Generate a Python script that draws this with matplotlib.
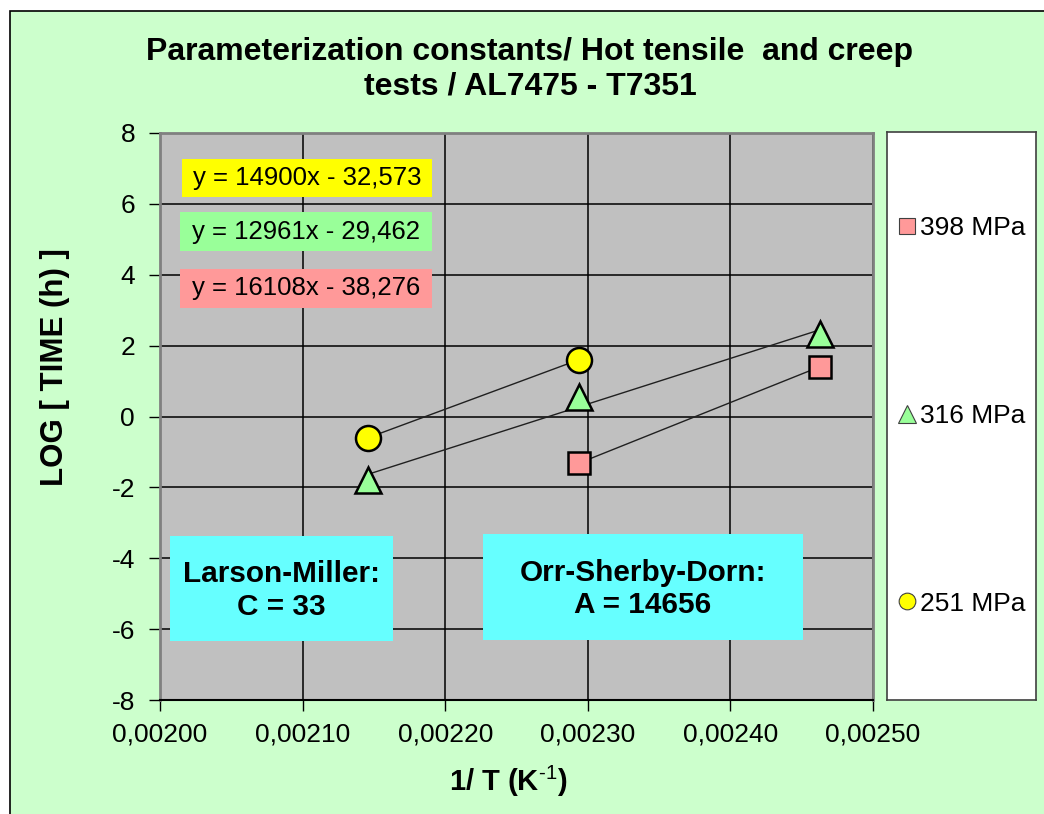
import numpy as np
import matplotlib
matplotlib.use("Agg")
import matplotlib.pyplot as plt
from matplotlib.patches import Rectangle
from matplotlib.lines import Line2D
from matplotlib.ticker import FuncFormatter, MultipleLocator

plt.rcParams['font.family'] = ['Liberation Sans', 'DejaVu Sans']
plt.rcParams['axes.unicode_minus'] = False
plt.rcParams['mathtext.fontset'] = 'custom'
plt.rcParams['mathtext.rm'] = 'Liberation Sans'
plt.rcParams['mathtext.bf'] = 'Liberation Sans:bold'

# data: test temperatures (K) and log rupture time for each stress level
temp_k = [466, 436, 406]
x_inv_t = [1.0 / t for t in temp_k]

series_labels = ["398 MPa", "316 MPa", "251 MPa"]
log_t_398 = [None, -1.32, 1.41]
log_t_316 = [-1.78, 0.55, 2.32]
log_t_251 = [-0.60, 1.60, None]

eq_texts = ["y = 14900x - 32,573", "y = 12961x - 29,462", "y = 16108x - 38,276"]
box_texts = ["Larson-Miller:\nC = 33", "Orr-Sherby-Dorn:\nA = 14656"]

title = "Parameterization constants/ Hot tensile  and creep\ntests / AL7475 - T7351"

W, H = 1044, 814
fig = plt.figure(figsize=(W / 100, H / 100), dpi=100)
fig.patch.set_facecolor("white")


def fx(px):
    return px / W


def fy(py):
    return 1 - py / H


# chart area background
fig.patches.append(Rectangle((fx(10), -0.01), 1 - fx(10) + 0.01, fy(11) + 0.01, transform=fig.transFigure,
                             facecolor="#CCFFCC", edgecolor="black", linewidth=1.2, zorder=-5))

ax = fig.add_axes([fx(160), fy(700), (873 - 160) / W, (700 - 133) / H])
ax.set_facecolor("#C0C0C0")
ax.set_xlim(0.0020, 0.0025)
ax.set_ylim(-8, 8)
ax.xaxis.set_major_locator(MultipleLocator(0.0001))
ax.yaxis.set_major_locator(MultipleLocator(2))
ax.xaxis.set_major_formatter(FuncFormatter(lambda v, p: f"{v:.5f}".replace(".", ",")))
ax.yaxis.set_major_formatter(FuncFormatter(lambda v, p: f"{v:.0f}"))
ax.grid(True, color="black", linewidth=1.1)
ax.set_axisbelow(True)
ax.tick_params(labelsize=19, length=8, width=1, direction="out")
ax.tick_params(axis="y", pad=10)
ax.tick_params(axis="x", pad=8)
for s in ["left", "top", "right"]:
    ax.spines[s].set_color("#808080")
    ax.spines[s].set_linewidth(2)
ax.spines["bottom"].set_color("black")
ax.spines["bottom"].set_linewidth(1.5)

styles = [
    dict(marker="s", mfc="#FF9999", ms=16.5, lms=11.5),
    dict(marker="^", mfc="#99FF99", ms=19, lms=13),
    dict(marker="o", mfc="#FFFF00", ms=18, lms=12),
]
all_y = [log_t_398, log_t_316, log_t_251]

handles = []
for ys, st, lab in zip(all_y, styles, series_labels):
    xs = np.array([x for x, y in zip(x_inv_t, ys) if y is not None])
    yv = np.array([y for y in ys if y is not None])
    k, b = np.polyfit(xs, yv, 1)
    xl = np.array([xs.min(), xs.max()])
    ax.plot(xl, k * xl + b, color="#202020", linewidth=1, zorder=3)
    ax.plot(xs, yv, linestyle="none", marker=st["marker"], markersize=st["ms"],
            markerfacecolor=st["mfc"], markeredgecolor="black", markeredgewidth=1.8, zorder=4)
    handles.append(Line2D([], [], linestyle="none", marker=st["marker"], markersize=st["lms"],
                          markerfacecolor=st["mfc"], markeredgecolor="#404040", markeredgewidth=0.8,
                          label=lab))

# axis titles (placed like the Excel chart, y title sits above centre)
fig.text(fx(55), fy(367), "LOG [ TIME (h) ]", rotation=90, ha="center", va="center",
         fontsize=22.5, fontweight="bold")
fig.text(fx(508), fy(781), r"1/ T (K$^{\text{-1}}$)", ha="center", va="center",
         fontsize=21, fontweight="bold")

fig.text(fx(530), fy(69), title, ha="center", va="center", fontsize=23,
         fontweight="bold", linespacing=1.2)

# trendline equation labels
eq_boxes = [(182, 159, 432, 197, "#FFFF00"), (180, 212, 432, 251, "#99FF99"),
            (180, 269, 432, 308, "#FF9999")]
for (x0, y0, x1, y1, c), t in zip(eq_boxes, eq_texts):
    fig.patches.append(Rectangle((fx(x0), fy(y1)), fx(x1) - fx(x0), fy(y0) - fy(y1),
                                 transform=fig.transFigure, facecolor=c, edgecolor="none", zorder=5))
    fig.text(fx((x0 + x1) / 2), fy((y0 + y1) / 2), t, ha="center", va="center",
             fontsize=18.5, zorder=6)

# parameter boxes
par_boxes = [(170, 536, 393, 641), (483, 534, 803, 640)]
for (x0, y0, x1, y1), t in zip(par_boxes, box_texts):
    fig.patches.append(Rectangle((fx(x0), fy(y1)), fx(x1) - fx(x0), fy(y0) - fy(y1),
                                 transform=fig.transFigure, facecolor="#66FFFF", edgecolor="none", zorder=5))
    fig.text(fx((x0 + x1) / 2), fy((y0 + y1) / 2 + 2), t, ha="center", va="center",
             fontsize=21.4, fontweight="bold", linespacing=1.2, zorder=6)

# legend panel
lax = fig.add_axes([fx(887), fy(700), (1036 - 887) / W, (700 - 132) / H])
lax.set_xticks([])
lax.set_yticks([])
lax.set_facecolor("white")
for s in lax.spines.values():
    s.set_color("#404040")
    s.set_linewidth(1.2)
lax.legend(handles=handles, loc="center", frameon=False, fontsize=19,
           labelspacing=6.2, handlelength=0.7, handletextpad=0.15, borderaxespad=0)

fig.savefig("out.png", dpi=100)
